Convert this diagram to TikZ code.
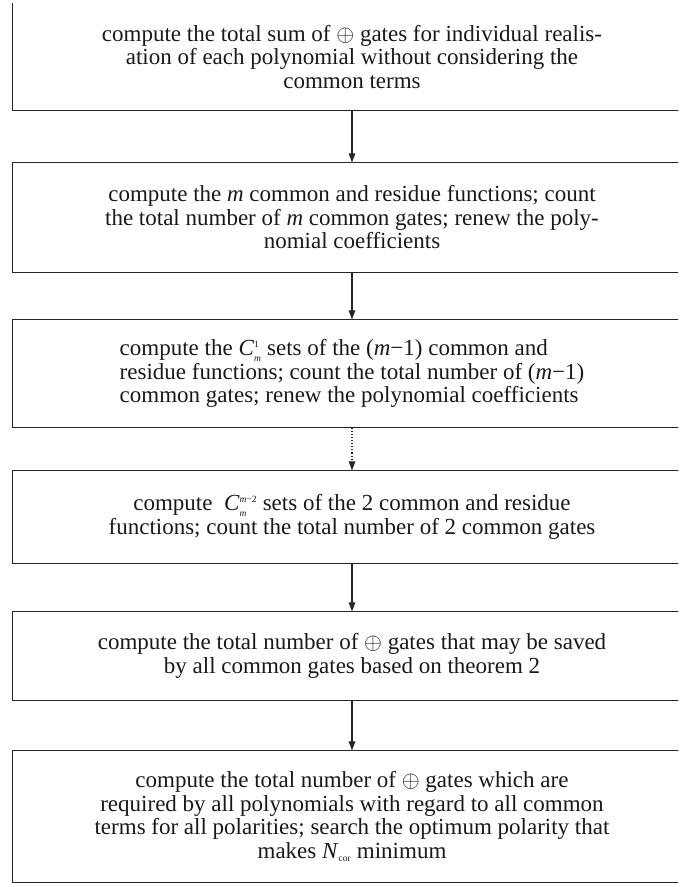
\RequirePackage{fix-cm}
\documentclass[tikz,border=0pt]{standalone}
\usepackage{fontspec}
\setmainfont{Liberation Serif}
\usetikzlibrary{arrows.meta}
\newcommand{\tinytxt}[1]{\mbox{\fontsize{9.5}{9.5}\selectfont #1}}
\begin{document}
\begin{tikzpicture}[x=1pt,y=-1pt,
  boxstyle/.style={draw=none, line width=1.2pt, minimum width=678pt, inner sep=0pt,
    font=\fontsize{23}{23.5}\selectfont, align=center, text=black!90},
  edge/.style={line width=1.2pt, draw=black!85},
  arr/.style={-{Triangle[length=9pt,width=6.5pt]}, line width=1.1pt, draw=black!85},
  dotarr/.style={arr, dotted}]
\useasboundingbox (0,0) rectangle (678,883);
\clip (0,0) rectangle (678,883);

\node[boxstyle, minimum height=106pt] (b1) at (352,57)
  {compute the total sum of $\oplus$ gates for individual realis-\\
   ation of each polynomial without considering the\\
   common terms};
\draw[edge] (b1.north west) -- (b1.south west) -- (b1.south east);

\node[boxstyle, minimum height=109pt] (b2) at (352,217.5)
  {compute the \textit{m} common and residue functions; count\\
   the total number of \textit{m} common gates; renew the poly-\\
   nomial coefficients};
\draw[edge] (b2.north east) -- (b2.north west) -- (b2.south west) -- (b2.south east);

\node[boxstyle, minimum height=107pt, align=left] (b3) at (352,373.5)
  {compute the \textit{C}$^{\tinytxt{1}}_{\tinytxt{\itshape m}}$ sets of the (\textit{m}−1) common and\\
   residue functions; count the total number of (\textit{m}−1)\\
   common gates; renew the polynomial coefficients};
\draw[edge] (b3.north east) -- (b3.north west) -- (b3.south west) -- (b3.south east);

\node[boxstyle, minimum height=92pt] (b4) at (352,517)
  {compute\ \ \textit{C}$^{\tinytxt{\itshape m}\tinytxt{−2}}_{\tinytxt{\itshape m}}$ sets of the 2 common and residue\\
   functions; count the total number of 2 common gates};
\draw[edge] (b4.north east) -- (b4.north west) -- (b4.south west) -- (b4.south east);

\node[boxstyle, minimum height=88pt] (b5) at (352,656)
  {compute the total number of $\oplus$ gates that may be saved\\
   by all common gates based on theorem 2};
\draw[edge] (b5.north east) -- (b5.north west) -- (b5.south west) -- (b5.south east);

\node[boxstyle, minimum height=131pt] (b6) at (352,816.5)
  {compute the total number of $\oplus$ gates which are\\
   required by all polynomials with regard to all common\\
   terms for all polarities; search the optimum polarity that\\
   makes \textit{N}$_{\tinytxt{cor}}$ minimum};
\draw[edge] (b6.north east) -- (b6.north west) -- (b6.south west) -- (b6.south east);

\draw[arr] (b1.south) -- (b2.north);
\draw[arr] (b2.south) -- (b3.north);
\draw[dotarr] (b3.south) -- (b4.north);
\draw[arr] (b4.south) -- (b5.north);
\draw[arr] (b5.south) -- (b6.north);
\end{tikzpicture}
\end{document}
